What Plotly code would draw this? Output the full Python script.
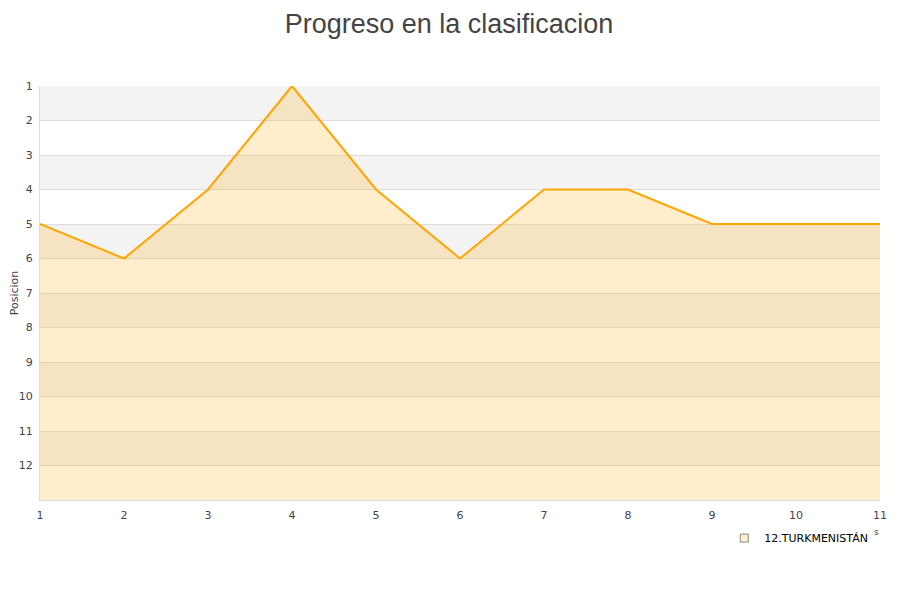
import plotly.graph_objects as go

jornadas = [1, 2, 3, 4, 5, 6, 7, 8, 9, 10, 11]
posiciones = [5, 6, 4, 1, 4, 6, 4, 4, 5, 5, 5]
equipo = "12.TURKMENISTÁN"
y_ticks = list(range(1, 13))
n_equipos = 13

fig = go.Figure()

# baseline for fill
fig.add_trace(go.Scatter(x=jornadas, y=[n_equipos] * len(jornadas), mode="lines",
                         line=dict(width=0, color="rgba(0,0,0,0)"), showlegend=False,
                         hoverinfo="skip"))
fig.add_trace(go.Scatter(x=jornadas, y=posiciones, mode="lines", fill="tonexty",
                         fillcolor="rgba(255,165,0,0.2)",
                         line=dict(color="#FFA500", width=2), showlegend=False, name=equipo))
# legend entry
fig.add_trace(go.Scatter(x=[None], y=[None], mode="markers", name=equipo,
                         marker=dict(symbol="square", size=8, color="#FFEDCC",
                                     line=dict(color="#888", width=1))))

shapes = []
for k in range(1, 13, 2):
    shapes.append(dict(type="rect", xref="paper", yref="y", x0=0, x1=1, y0=k, y1=k + 1,
                       fillcolor="#F3F3F3", line=dict(width=0), layer="below"))

# page has an 8px body margin, so the figure is offset by 8px
fig.update_layout(
    width=900, height=600,
    paper_bgcolor="white", plot_bgcolor="white",
    margin=dict(l=32, r=28, t=78, b=108, autoexpand=False),
    title=dict(text="Progreso en la clasificacion", x=(449 - 8) / 900, xanchor="center",
               y=1 - 6 / 600, yanchor="top", pad=dict(t=0),
               font=dict(family="Liberation Sans, Arial", size=27, color="#444")),
    font=dict(family="DejaVu Sans", size=11, color="#444"),
    shapes=shapes,
    xaxis=dict(range=[1, 11], tickvals=jornadas, showgrid=False, zeroline=False, automargin=False,
               showline=True, linecolor="#ddd", ticks="", ticklabelstandoff=5,
               tickfont=dict(size=11, color="#444")),
    yaxis=dict(range=[13, 1], tickvals=y_ticks, showgrid=True, gridcolor="#ddd", automargin=False,
               zeroline=False, showline=True, linecolor="#ddd", ticks="", ticklabelstandoff=4,
               title=dict(text="Posicion", font=dict(size=11, color="#444"), standoff=7),
               tickfont=dict(size=11, color="#444")),
    legend=dict(x=0.992, xanchor="right", y=-0.092, yanchor="middle",
                font=dict(family="DejaVu Sans", size=11, color="#000"),
                bgcolor="rgba(0,0,0,0)"),
    showlegend=True,
)
fig.add_annotation(text="s", xref="paper", yref="paper", x=(881 - 40) / 840, y=(500 - 539) / 414,
                   showarrow=False, font=dict(size=9, color="#444"))

fig.write_html("out.html")
